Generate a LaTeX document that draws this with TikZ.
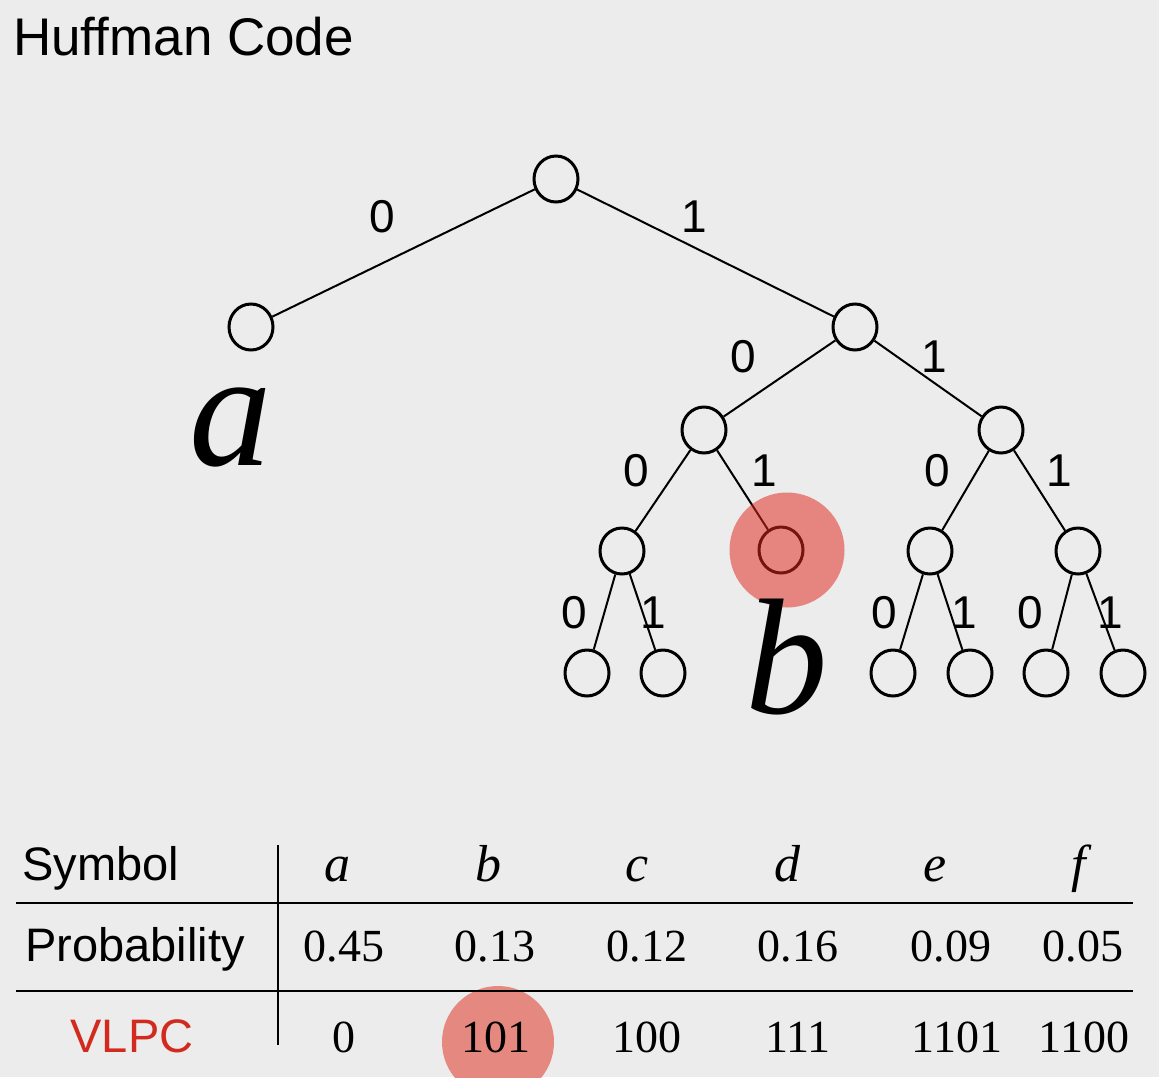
\documentclass[tikz,border=0pt]{standalone}
\usepackage{fontspec}
\setmainfont{Liberation Serif}
\setsansfont{Liberation Sans}
\usetikzlibrary{shapes.geometric}
\definecolor{bgc}{RGB}{236,236,236}
\definecolor{hlred}{RGB}{225,40,30}
\definecolor{tabdisk}{RGB}{229,136,127}
\definecolor{vlpcred}{RGB}{210,42,30}
\begin{document}
\begin{tikzpicture}[x=1pt,y=-1pt,
  tnode/.style={ellipse,draw=black,line width=3pt,minimum width=44pt,minimum height=46pt,inner sep=0pt},
  tedge/.style={draw=black,line width=2pt},
  elab/.style={font=\sffamily\fontsize{46}{46}\selectfont,inner sep=0pt},
  bigsym/.style={font=\fontsize{165}{165}\selectfont\itshape,inner sep=0pt,anchor=base},
  tsans/.style={font=\sffamily\fontsize{47}{47}\selectfont,inner sep=0pt},
  tsym/.style={font=\fontsize{52}{52}\selectfont\itshape,inner sep=0pt,anchor=base},
  tnum/.style={font=\fontsize{46}{46}\selectfont,inner sep=0pt,anchor=base},
  tline/.style={draw=black,line width=2.5pt},
  vline/.style={draw=black,line width=2pt}]
\fill[bgc] (0,0) rectangle (1159,1077);
\useasboundingbox (0,0) rectangle (1159,1077);

% title
\node[anchor=base west,inner sep=0pt,font=\sffamily\fontsize{53}{53}\selectfont] (title) at (13,55) {Huffman Code};

% tree nodes
\node[tnode] (r) at (556,179) {};
\node[tnode] (na) at (251,327) {};
\node[tnode] (n1) at (855,327) {};
\node[tnode] (n10) at (704,430) {};
\node[tnode] (n11) at (1001,430) {};
\node[tnode] (n100) at (622,551) {};
\node[tnode] (nb) at (781,550) {};
\node[tnode] (n110) at (930,551) {};
\node[tnode] (n111) at (1078,551) {};
\node[tnode] (l1) at (587,673) {};
\node[tnode] (l2) at (663,673) {};
\node[tnode] (l3) at (893,673) {};
\node[tnode] (l4) at (970,673) {};
\node[tnode] (l5) at (1046,673) {};
\node[tnode] (l6) at (1123,673) {};

% edges
\draw[tedge] (r) -- (na);
\draw[tedge] (r) -- (n1);
\draw[tedge] (n1) -- (n10);
\draw[tedge] (n1) -- (n11);
\draw[tedge] (n10) -- (n100);
\draw[tedge] (n10) -- (nb);
\draw[tedge] (n11) -- (n110);
\draw[tedge] (n11) -- (n111);
\draw[tedge] (n100) -- (l1);
\draw[tedge] (n100) -- (l2);
\draw[tedge] (n110) -- (l3);
\draw[tedge] (n110) -- (l4);
\draw[tedge] (n111) -- (l5);
\draw[tedge] (n111) -- (l6);

% edge labels
\node[elab] (e1) at (382,217) {0};
\node[elab] (e2) at (694,217) {1};
\node[elab] (e3) at (743,357) {0};
\node[elab] (e4) at (934,357) {1};
\node[elab] (e5) at (636,471) {0};
\node[elab] (e6) at (764,471) {1};
\node[elab] (e7) at (937,471) {0};
\node[elab] (e8) at (1059,471) {1};
\node[elab] (e9) at (574,613) {0};
\node[elab] (e10) at (653,613) {1};
\node[elab] (e11) at (884,613) {0};
\node[elab] (e12) at (964,613) {1};
\node[elab] (e13) at (1030,613) {0};
\node[elab] (e14) at (1110,613) {1};

% highlight over b node
\fill[hlred,opacity=0.52] (787,550) circle (57.5);

% big symbols
\node[bigsym] (syma) at (231,465) {a};
\node[bigsym] (symb) at (787,713) {b};

% table
\fill[tabdisk] (498,1042) circle (56);
\coordinate (h1a) at (16,903);
\coordinate (h1b) at (1133,903);
\coordinate (h2a) at (16,991);
\coordinate (h2b) at (1133,991);
\coordinate (v1a) at (278,845);
\coordinate (v1b) at (278,1045);
\draw[tline] (h1a) -- (h1b);
\draw[tline] (h2a) -- (h2b);
\draw[vline] (v1a) -- (v1b);

\node[tsans,anchor=base west] (lsym) at (22,880) {Symbol};
\node[tsans,anchor=base west] (lprob) at (25,961) {Probability};
\node[tsans,anchor=base,text=vlpcred] (lvlpc) at (132,1052) {VLPC};

\node[tsym] (ca) at (337,881) {a};
\node[tsym] (cb) at (488,881) {b};
\node[tsym] (cc) at (637,881) {c};
\node[tsym] (cd) at (787,881) {d};
\node[tsym] (ce) at (935,881) {e};
\node[tsym] (cf) at (1079,881) {f};

\node[tnum] (pa) at (344,961) {0.45};
\node[tnum] (pb) at (495,961) {0.13};
\node[tnum] (pc) at (647,961) {0.12};
\node[tnum] (pd) at (798,961) {0.16};
\node[tnum] (pe) at (951,961) {0.09};
\node[tnum] (pf) at (1083,961) {0.05};

\node[tnum] (va) at (344,1052) {0};
\node[tnum] (vb) at (496,1052) {101};
\node[tnum] (vc) at (647,1052) {100};
\node[tnum] (vd) at (798,1052) {111};
\node[tnum] (ve) at (957,1052) {1101};
\node[tnum] (vf) at (1084,1052) {1100};
\end{tikzpicture}
\end{document}
